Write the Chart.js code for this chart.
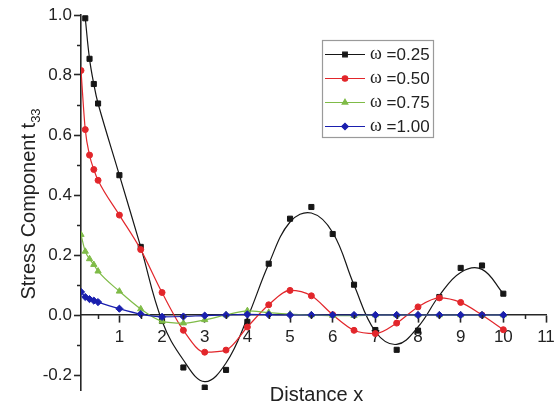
<!DOCTYPE html>
<html>
<head>
<meta charset="utf-8">
<script src="https://cdn.jsdelivr.net/npm/chart.js@4/dist/chart.umd.min.js"></script>
<style>
  html, body { margin: 0; padding: 0; background: #ffffff; }
  #c { display: block; }
</style>
</head>
<body>
<canvas id="c" width="554" height="407"></canvas>
<script>
// Distance x at which t33 was evaluated
const distance = [0.1, 0.2, 0.3, 0.4, 0.5, 1.0, 1.5, 2.0, 2.5, 3.0, 3.5, 4.0, 4.5,
                  5.0, 5.5, 6.0, 6.5, 7.0, 7.5, 8.0, 8.5, 9.0, 9.5, 10.0];

// Stress component t33 for each frequency ω
const omega025 = [null, 0.989, 0.854, 0.770, 0.705, 0.466, 0.227, -0.020, -0.175, -0.242, -0.183, -0.023, 0.171,
                  0.321, 0.360, 0.270, 0.101, -0.050, -0.116, -0.052, 0.060, 0.157, 0.165, 0.071];
// smooth fitted curve drawn through the ω = 0.25 points
const omega025Fit = [null, 0.989, 0.854, 0.770, 0.705, 0.466, 0.227, -0.020, -0.150, -0.222, -0.160, -0.010, 0.170,
                     0.310, 0.340, 0.275, 0.100, -0.055, -0.098, -0.040, 0.065, 0.142, 0.152, 0.071];
const omega050 = [0.815, 0.618, 0.533, 0.485, 0.449, 0.333, 0.218, 0.075, -0.051, -0.124, -0.117, -0.040, 0.034,
                  0.082, 0.064, 0.001, -0.051, -0.062, -0.027, 0.027, 0.057, 0.042, 0.000, -0.049];
const omega075 = [0.268, 0.212, 0.187, 0.168, 0.146, 0.079, 0.020, -0.021, -0.027, -0.016, 0.000, 0.014, 0.008,
                  0.003, 0.000, -0.002, -0.002, 0.000, 0.000, 0.000, 0.000, 0.000, 0.000, 0.000];
const omega100 = [0.077, 0.060, 0.053, 0.048, 0.043, 0.021, 0.003, -0.006, -0.005, -0.002, 0.000, 0.002, 0.001,
                  0.000, 0.000, 0.000, 0.000, 0.000, 0.000, 0.000, 0.000, 0.000, 0.000, 0.000];

const seriesSymbol = 'ω';
const seriesValues = ['=0.25', '=0.50', '=0.75', '=1.00'];

// axis ticks
const xTicks = [1, 2, 3, 4, 5, 6, 7, 8, 9, 10, 11];
const xMinorTicks = [0.5, 1.5, 2.5, 3.5, 4.5, 5.5, 6.5, 7.5, 8.5, 9.5, 10.5];
const yTicks = [-0.2, 0.0, 0.2, 0.4, 0.6, 0.8, 1.0];
const yMinorTicks = [-0.1, 0.1, 0.3, 0.5, 0.7, 0.9];

const xTitle = 'Distance x';
const yTitle = 'Stress Component t';
const yTitleSub = '33';

const SANS = '"Liberation Sans", Arial, Helvetica, sans-serif';
const SERIF = '"Liberation Serif", "Times New Roman", serif';
const AXIS = '#262626';

Chart.defaults.font.family = SANS;
Chart.defaults.color = '#222';

const pts = ys => distance.map((x, i) => ({ x: x, y: ys[i] }));

const styles = [
  { color: '#161616', pointStyle: 'rect',    radius: 3.6 },
  { color: '#e2262b', pointStyle: 'circle',  radius: 3.0 },
  { color: '#7fbb47', pointStyle: 'triangle', radius: 3.6 },
  { color: '#1a1fae', pointStyle: 'rectRot', radius: 3.6 }
];

const lineSet = (ys, st, order) => ({
  data: pts(ys),
  borderColor: st.color,
  backgroundColor: st.color,
  borderWidth: 1.2,
  pointStyle: st.pointStyle,
  pointRadius: st.radius,
  pointBorderWidth: 1,
  pointHoverRadius: st.radius,
  cubicInterpolationMode: 'monotone',
  order: order
});

const datasets = [
  // ω = 0.25: fitted curve + measured points
  { data: pts(omega025Fit), borderColor: styles[0].color, borderWidth: 1.2, pointRadius: 0,
    tension: 0.4, order: 4 },
  Object.assign(lineSet(omega025, styles[0], 3), { showLine: false }),
  lineSet(omega050, styles[1], 2),
  lineSet(omega075, styles[2], 1),
  lineSet(omega100, styles[3], 0)
];

// minor ticks, axis titles and the framed legend
const decorations = {
  id: 'decorations',
  afterDraw(chart) {
    const ctx = chart.ctx;
    const xs = chart.scales.x, ys = chart.scales.y;
    const y0 = ys.getPixelForValue(0);
    const xLeft = chart.chartArea.left;

    ctx.save();
    ctx.strokeStyle = AXIS;
    ctx.lineWidth = 1.5;
    ctx.beginPath();
    xMinorTicks.forEach(v => {
      const px = Math.round(xs.getPixelForValue(v)) + 0.5;
      ctx.moveTo(px, y0);
      ctx.lineTo(px, y0 + 4);
    });
    yMinorTicks.forEach(v => {
      const py = Math.round(ys.getPixelForValue(v)) + 0.5;
      ctx.moveTo(xLeft, py);
      ctx.lineTo(xLeft - 4, py);
    });
    ctx.stroke();

    // x title
    ctx.fillStyle = '#222';
    ctx.font = '20px ' + SANS;
    ctx.textAlign = 'center';
    ctx.textBaseline = 'alphabetic';
    ctx.fillText(xTitle, (chart.chartArea.left + chart.chartArea.right) / 2 + 3, 401);

    // y title with subscript
    ctx.save();
    ctx.translate(35, 204);
    ctx.rotate(-Math.PI / 2);
    ctx.font = '20px ' + SANS;
    const w1 = ctx.measureText(yTitle).width;
    ctx.font = '13px ' + SANS;
    const w2 = ctx.measureText(yTitleSub).width;
    const start = -(w1 + w2) / 2;
    ctx.textAlign = 'left';
    ctx.font = '20px ' + SANS;
    ctx.fillText(yTitle, start, 0);
    ctx.font = '13px ' + SANS;
    ctx.fillText(yTitleSub, start + w1, 5);
    ctx.restore();

    // legend
    const bx = 322.5, by = 40.5, bw = 111, bh = 97;
    ctx.fillStyle = '#ffffff';
    ctx.fillRect(bx, by, bw, bh);
    ctx.strokeStyle = '#9a9a9a';
    ctx.lineWidth = 1.2;
    ctx.strokeRect(bx, by, bw, bh);
    styles.forEach((st, i) => {
      const ey = 54 + i * 24;
      ctx.strokeStyle = st.color;
      ctx.lineWidth = 1.2;
      ctx.beginPath();
      ctx.moveTo(325, ey + 0.5);
      ctx.lineTo(365, ey + 0.5);
      ctx.stroke();
      ctx.fillStyle = st.color;
      Chart.helpers.drawPoint(ctx, { pointStyle: st.pointStyle, radius: st.radius * 0.9, rotation: 0, borderWidth: 1 }, 345, ey + 0.5);
      ctx.fillStyle = '#222';
      ctx.textAlign = 'left';
      ctx.textBaseline = 'middle';
      ctx.font = '18px ' + SERIF;
      ctx.fillText(seriesSymbol, 370, ey);
      const ws = ctx.measureText(seriesSymbol).width;
      ctx.font = '17px ' + SANS;
      ctx.fillText(' ' + seriesValues[i], 370 + ws, ey + 1);
    });
    ctx.restore();
  }
};

new Chart(document.getElementById('c'), {
  type: 'line',
  data: { datasets: datasets },
  plugins: [decorations],
  options: {
    responsive: false,
    animation: false,
    events: [],
    layout: { padding: { top: 15, right: 8, bottom: 17, left: 0 } },
    plugins: { legend: { display: false }, tooltip: { enabled: false } },
    scales: {
      x: {
        type: 'linear',
        min: 0.1,
        max: 11,
        position: { y: 0 },
        afterBuildTicks: s => { s.ticks = xTicks.map(v => ({ value: v })); },
        afterFit: s => { s.paddingLeft = 0; s.paddingRight = 8; },
        ticks: { font: { size: 17 }, color: '#222', padding: 5, maxRotation: 0, autoSkip: false,
                 callback: v => String(v) },
        grid: { drawOnChartArea: false, drawTicks: true, tickLength: 7, tickWidth: 1.6, tickColor: AXIS },
        border: { display: true, color: AXIS, width: 1.6 }
      },
      y: {
        type: 'linear',
        min: -0.25,
        max: 1.0,
        position: 'left',
        afterBuildTicks: s => { s.ticks = yTicks.map(v => ({ value: v })); },
        afterFit: s => { s.width = 81; },
        ticks: { font: { size: 17 }, color: '#222', padding: 2, callback: v => v.toFixed(1) },
        grid: { drawOnChartArea: false, drawTicks: true, tickLength: 7, tickWidth: 1.6, tickColor: AXIS },
        border: { display: true, color: AXIS, width: 1.6 }
      }
    }
  }
});
</script>
</body>
</html>
